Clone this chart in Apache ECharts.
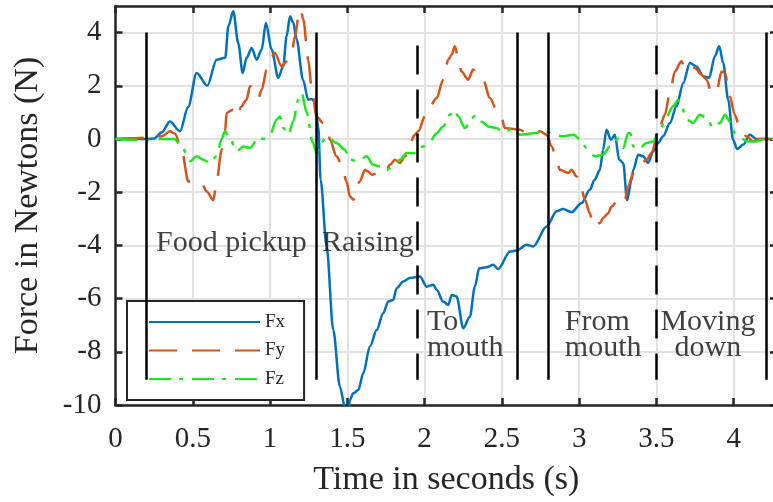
<!DOCTYPE html>
<html>
<head>
<meta charset="utf-8">
<title>Force in Newtons</title>
<script src="https://cdn.jsdelivr.net/npm/echarts@6/dist/echarts.min.js"></script>
<style>
    html, body { margin: 0; padding: 0; background: #fff; }
    #force_chart { width: 773px; height: 502px; }
</style>
</head>
<body>
<div id="force_chart"></div>
<script>

// Data
// ------------------------------

// [time (s), force (N)]
var fxData = [
    [0,0],[0.1,0],[0.2,0],[0.25,0.02],[0.3,0.25],[0.352,0.66],[0.417,0.29],[0.47,1.2],[0.525,2.48],[0.594,2.0],
    [0.654,2.98],[0.71,3.05],[0.73,4.24],[0.762,4.8],[0.794,3.61],[0.823,2.48],[0.848,3.05],[0.881,3.42],[0.913,2.98],
    [0.946,3.36],[0.973,4.37],[1.01,3.36],[1.053,2.3],[1.085,2.73],[1.107,3.86],[1.129,4.61],[1.15,4.37],[1.172,3.74],
    [1.213,2.23],[1.247,1.48],[1.267,1.5],[1.29,1.41],[1.312,0.47],[1.327,-1.53],[1.366,-4.04],[1.409,-7.18],
    [1.452,-9.31],[1.485,-10.1],[1.505,-10.25],[1.517,-9.81],[1.538,-9.56],[1.571,-9.44],[1.603,-8.81],[1.646,-7.8],
    [1.69,-7.18],[1.732,-6.55],[1.765,-6.11],[1.797,-6.05],[1.819,-5.61],[1.862,-5.36],[1.905,-5.23],[1.97,-5.17],
    [2.013,-5.55],[2.056,-5.48],[2.078,-5.67],[2.12,-6.11],[2.153,-6.24],[2.175,-5.86],[2.207,-5.92],[2.25,-7.11],
    [2.293,-6.68],[2.325,-5.55],[2.353,-4.86],[2.4,-4.82],[2.444,-4.73],[2.476,-4.89],[2.552,-4.23],[2.595,-4.19],
    [2.66,-3.98],[2.703,-4.04],[2.789,-3.29],[2.854,-2.72],[2.897,-2.63],[2.951,-2.75],[3.016,-2.41],[3.069,-1.91],
    [3.1,-1.53],[3.134,-1.16],[3.155,-0.4],[3.177,0.35],[3.205,-0.03],[3.231,0.16],[3.259,-0.78],[3.285,-0.9],
    [3.31,-2.3],[3.339,-1.53],[3.35,-1.16],[3.382,-0.59],[3.414,-0.65],[3.446,-0.9],[3.479,-0.47],[3.511,-0.15],
    [3.543,0.1],[3.587,0.6],[3.63,1.23],[3.673,2.1],[3.716,2.86],[3.759,2.73],[3.802,2.36],[3.841,2.3],[3.878,3.11],
    [3.906,3.49],[3.932,2.86],[3.964,1.48],[3.996,-0.03],[4.022,-0.38],[4.061,-0.21],[4.104,0.16],[4.147,0],[4.2,0],[4.28,0]
];

var fyData = [
    [0,0],[0.1,0.03],[0.2,0.05],[0.3,0.1],[0.352,0.29],[0.385,0.2],[0.428,-0.4],[0.471,-1.6],[0.51,-1.55],[0.557,-1.66],
    [0.59,-1.97],[0.633,-2.3],[0.654,-1.6],[0.687,-0.4],[0.708,0.22],[0.719,0.98],[0.76,1.1],[0.794,0.85],[0.81,1.2],
    [0.848,1.48],[0.87,1.98],[0.9,1.85],[0.924,1.54],[0.946,1.85],[0.978,2.6],[1.01,3.11],[1.03,3.24],[1.075,2.73],
    [1.096,2.86],[1.14,3.24],[1.161,3.86],[1.183,4.55],[1.198,4.87],[1.215,4.49],[1.247,2.98],[1.269,1.92],[1.301,0.85],
    [1.344,0.6],[1.376,0.3],[1.387,-0.03],[1.43,-0.65],[1.463,-0.97],[1.495,-1.6],[1.517,-2.16],[1.538,-2.28],[1.58,-1.6],
    [1.614,-1.16],[1.635,-1.22],[1.657,-1.34],[1.7,-1.28],[1.743,-1.28],[1.776,-0.97],[1.808,-0.78],[1.84,-0.9],
    [1.873,-0.65],[1.905,-0.15],[1.937,0.16],[1.959,0.29],[2.002,0.85],[2.034,1.23],[2.078,1.54],[2.12,2.23],[2.153,2.98],
    [2.175,3.17],[2.196,3.49],[2.217,3.05],[2.239,2.54],[2.282,2.23],[2.314,2.61],[2.347,2.42],[2.379,2.23],[2.422,1.54],
    [2.466,1.1],[2.498,0.79],[2.519,0.41],[2.573,0.38],[2.616,0.35],[2.66,0.23],[2.703,0.31],[2.746,0.29],[2.789,0.16],
    [2.822,-0.28],[2.854,-0.78],[2.875,-1.16],[2.929,-1.28],[2.951,-1.16],[2.983,-1.41],[3.005,-1.6],[3.037,-2.28],
    [3.069,-2.79],[3.09,-3.29],[3.134,-3.16],[3.155,-2.97],[3.188,-2.79],[3.21,-2.54],[3.263,-2.16],[3.296,-2.28],
    [3.317,-1.78],[3.35,-1.28],[3.371,-1.03],[3.404,-0.9],[3.436,-0.78],[3.468,-0.53],[3.5,-0.03],[3.522,0.47],
    [3.554,0.91],[3.587,1.73],[3.619,2.54],[3.662,2.92],[3.684,2.61],[3.716,2.73],[3.749,2.67],[3.792,2.42],[3.824,2.23],
    [3.856,1.73],[3.889,1.79],[3.921,2.54],[3.943,2.48],[3.975,1.6],[4.007,0.91],[4.039,0.41],[4.082,0.1],[4.125,-0.09],
    [4.169,0],[4.28,0]
];

var fzData = [
    [0,0],[0.1,-0.03],[0.2,-0.05],[0.3,0],[0.38,0],[0.428,-0.28],[0.482,-0.84],[0.525,-0.65],[0.568,-0.78],[0.611,-0.9],
    [0.654,-0.65],[0.687,0],[0.708,0.29],[0.741,0],[0.784,-0.47],[0.827,-0.28],[0.87,-0.34],[0.924,0.04],[0.967,0],
    [0.999,0.16],[1.043,0.73],[1.064,0.85],[1.086,0.41],[1.118,0.16],[1.15,0.66],[1.183,1.48],[1.204,1.73],[1.237,1.0],
    [1.275,-0.1],[1.301,-0.53],[1.323,-0.2],[1.366,0.1],[1.43,-0.15],[1.484,-0.4],[1.517,-0.78],[1.571,-0.84],
    [1.625,-0.65],[1.668,-0.97],[1.711,-1.03],[1.754,-1.16],[1.797,-1.03],[1.84,-0.78],[1.884,-0.53],[1.937,-0.53],
    [1.991,-0.28],[2.034,-0.09],[2.078,0.22],[2.12,0.47],[2.164,0.91],[2.19,1.1],[2.217,0.85],[2.261,0.41],[2.304,0.79],
    [2.336,0.91],[2.368,0.66],[2.411,0.47],[2.466,0.41],[2.498,0.29],[2.53,0.3],[2.573,0.41],[2.616,0.16],[2.703,0.22],
    [2.789,0.29],[2.832,0.16],[2.897,0.1],[2.962,0.16],[3.005,0],[3.048,-0.34],[3.102,-0.65],[3.155,-0.59],[3.199,-0.28],
    [3.252,0],[3.285,-0.34],[3.317,0.22],[3.33,0.22],[3.35,-0.28],[3.382,-0.4],[3.436,-0.15],[3.479,-0.09],[3.522,0.35],
    [3.565,0.85],[3.608,1.23],[3.64,1.48],[3.662,1.23],[3.695,0.73],[3.737,0.6],[3.781,0.91],[3.824,0.79],[3.867,0.41],
    [3.91,0.6],[3.943,0.91],[3.975,0.66],[4.007,0.22],[4.039,0.04],[4.093,-0.09],[4.147,-0.09],[4.2,0],[4.28,0]
];

// Phase boundaries (s) and whether each one is dashed
var phaseTimes = [0.2, 1.3, 1.95, 2.6, 2.8, 3.5, 4.21];
var phaseDashed = [false, false, true, false, false, true, false];
var phaseRange = [4, -9.05];

// Phase captions and their anchor in data units
var noteTexts = ['Food pickup', 'Raising', 'To\nmouth', 'From\nmouth', 'Moving\ndown'];
var noteTimes = [0.75, 1.633, 2.015, 2.907, 3.833];
var noteForces = [-3.9, -3.9, -7.38, -7.38, -7.38];

// Axes
var timeTicks = [0, 4.28, 0.5];
var forceTicks = [-10, 5, 2];


// Setup module
// ------------------------------

var ForceChart = function() {

    var serif = '"Liberation Serif", "Times New Roman", serif';
    var ink = '#262626';

    var _forceChart = function() {
        if (typeof echarts == 'undefined') {
            console.warn('Warning - echarts.min.js is not loaded.');
            return;
        }

        var element = document.getElementById('force_chart');
        if (!element) {
            return;
        }

        var chart = echarts.init(element);

        // Vertical phase lines
        var solidLines = [], dashedLines = [];
        phaseTimes.forEach(function(t, i) {
            var item = { coords: [[t, phaseRange[0]], [t, phaseRange[1]]] };
            (phaseDashed[i] ? dashedLines : solidLines).push(item);
        });

        // Captions
        var notes = noteTexts.map(function(text, i) {
            return {
                name: text,
                value: [noteTimes[i], noteForces[i]],
                label: { align: (i == 2 || i == 3) ? 'left' : 'center' }
            };
        });

        var frameAxis = {
            axisLine: { show: true, onZero: false, lineStyle: { color: ink, width: 2.5 } },
            axisTick: { show: true, inside: true, length: 7, lineStyle: { color: ink, width: 2.5 } },
            axisLabel: { show: false },
            splitLine: { show: false }
        };

        chart.setOption({
            animation: false,

            grid: {
                left: 115.5,
                right: -4,
                top: 6,
                bottom: 97,
                containLabel: false,
                outerBoundsMode: 'none'
            },

            legend: {
                data: ['Fx', 'Fy', 'Fz'],
                orient: 'vertical',
                left: 127,
                top: 301,
                padding: [11.5, 19, 11.5, 21],
                itemWidth: 111,
                itemHeight: 14,
                itemGap: 9.5,
                backgroundColor: '#fff',
                borderColor: ink,
                borderWidth: 2,
                borderRadius: 0,
                itemStyle: { opacity: 0 },
                textStyle: { fontFamily: serif, fontSize: 19, lineHeight: 17, color: ink }
            },

            xAxis: [
                Object.assign({}, frameAxis, {
                    type: 'value',
                    min: timeTicks[0],
                    max: timeTicks[1],
                    interval: timeTicks[2],
                    name: 'Time in seconds (s)',
                    nameLocation: 'middle',
                    nameGap: 58,
                    nameMoveOverlap: false,
                    nameTextStyle: { fontFamily: serif, fontSize: 34, color: ink },
                    axisLabel: {
                        show: true, margin: 20, showMaxLabel: false,
                        fontFamily: serif, fontSize: 29, color: ink
                    },
                    splitLine: { show: true, lineStyle: { color: '#e2e2e2', width: 2 } }
                }),
                Object.assign({}, frameAxis, {
                    type: 'value',
                    position: 'top',
                    min: timeTicks[0],
                    max: timeTicks[1],
                    interval: timeTicks[2]
                })
            ],

            yAxis: [
                Object.assign({}, frameAxis, {
                    type: 'value',
                    min: forceTicks[0],
                    max: forceTicks[1],
                    interval: forceTicks[2],
                    name: 'Force in Newtons (N)',
                    nameLocation: 'middle',
                    nameGap: 70,
                    nameMoveOverlap: false,
                    nameTextStyle: { fontFamily: serif, fontSize: 34, color: ink },
                    axisLabel: {
                        show: true, margin: 14, showMaxLabel: false,
                        fontFamily: serif, fontSize: 29, color: ink
                    },
                    splitLine: { show: true, lineStyle: { color: '#e2e2e2', width: 2 } }
                }),
                Object.assign({}, frameAxis, {
                    type: 'value',
                    position: 'right',
                    min: forceTicks[0],
                    max: forceTicks[1],
                    interval: forceTicks[2]
                })
            ],

            series: [
                {
                    name: 'Fx',
                    type: 'line',
                    data: fxData,
                    symbol: 'none',
                    smooth: 0.3,
                    smoothMonotone: 'x',
                    z: 3,
                    lineStyle: { color: '#0072bd', width: 2.5 },
                    itemStyle: { color: '#0072bd' }
                },
                {
                    name: 'Fy',
                    type: 'line',
                    data: fyData,
                    symbol: 'none',
                    smooth: 0.3,
                    smoothMonotone: 'x',
                    z: 3,
                    lineStyle: { color: '#d95319', width: 2.5, type: [28, 15] },
                    itemStyle: { color: '#d95319' }
                },
                {
                    name: 'Fz',
                    type: 'line',
                    data: fzData,
                    symbol: 'none',
                    smooth: 0.3,
                    smoothMonotone: 'x',
                    z: 3,
                    lineStyle: { color: '#1de81d', width: 2.5, type: [22, 8, 4, 9] },
                    itemStyle: { color: '#1de81d' }
                },
                {
                    name: 'phases',
                    type: 'lines',
                    coordinateSystem: 'cartesian2d',
                    silent: true,
                    z: 4,
                    lineStyle: { color: '#000', width: 2.5, opacity: 1 },
                    data: solidLines
                },
                {
                    name: 'phasesDashed',
                    type: 'lines',
                    coordinateSystem: 'cartesian2d',
                    silent: true,
                    z: 4,
                    lineStyle: { color: '#000', width: 2.5, opacity: 1, type: [29, 15], dashOffset: 31 },
                    data: dashedLines
                },
                {
                    name: 'notes',
                    type: 'scatter',
                    symbolSize: 0,
                    silent: true,
                    z: 5,
                    data: notes,
                    label: {
                        show: true,
                        position: 'inside',
                        formatter: '{b}',
                        fontFamily: serif,
                        fontSize: 30,
                        lineHeight: 26,
                        color: '#111'
                    }
                }
            ]
        });

        window.addEventListener('resize', function() {
            chart.resize();
        });
    };

    return {
        init: function() {
            _forceChart();
        }
    }
}();


// Initialize module
// ------------------------------

document.addEventListener('DOMContentLoaded', function() {
    ForceChart.init();
});
</script>
</body>
</html>
